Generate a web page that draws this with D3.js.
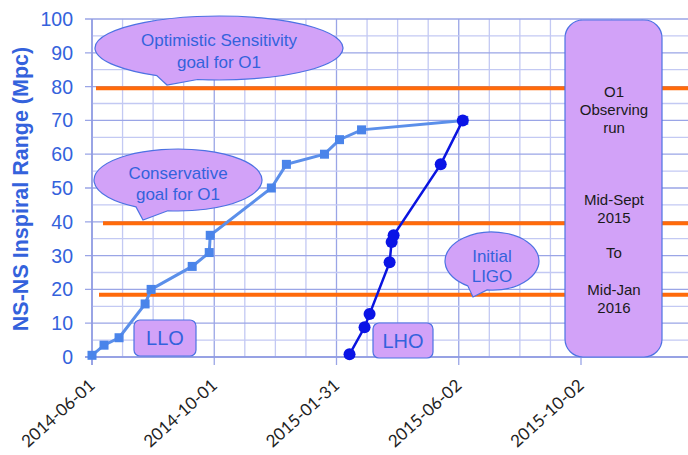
<!DOCTYPE html>
<html>
<head>
<meta charset="utf-8">
<script src="https://d3js.org/d3.v7.min.js"></script>
<style>
  body { margin: 0; background: #fff; }
  svg { display: block; }
</style>
</head>
<body>
<div id="chart"></div>
<script>
// LLO (Livingston) range, light blue squares
const lloDates  = ["2014-06-01", "2014-06-13", "2014-06-28", "2014-07-24", "2014-07-30", "2014-09-09",
                   "2014-09-26", "2014-09-27", "2014-11-27", "2014-12-12", "2015-01-19", "2015-02-03",
                   "2015-02-25", "2015-06-07"];
const lloValues = [0.5, 3.5, 5.7, 15.7, 20, 26.8, 30.9, 36, 50, 57, 60, 64.3, 67.2, 70];

// LHO (Hanford) range, dark blue circles
const lhoDates  = ["2015-02-13", "2015-02-28", "2015-03-05", "2015-03-25", "2015-03-27", "2015-03-29",
                   "2015-05-15", "2015-06-06"];
const lhoValues = [0.8, 8.8, 12.7, 28, 34, 36, 57, 70];

// reference levels (orange)
const goalLevels = [79.5, 39.6, 18.4];

const xTickLabels = ["2014-06-01", "2014-10-01", "2015-01-31", "2015-06-02", "2015-10-02"];
const yTicks = [0, 10, 20, 30, 40, 50, 60, 70, 80, 90, 100];

const width = 688, height = 455;
const parse = d3.utcParse("%Y-%m-%d");

const svg = d3.select("#chart").append("svg")
    .attr("width", width)
    .attr("height", height);

const x = d3.scaleUtc()
    .domain([parse(xTickLabels[0]), parse(xTickLabels[xTickLabels.length - 1])])
    .range([92, 581]);

const y = d3.scaleLinear()
    .domain([0, 100])
    .range([357, 19]);

const blue = "#3462dc";
const lavender = "#d2a2f8";
const boxStroke = "#4d72e3";

// grid
const grid = svg.append("g");
const stepPx = (x(parse(xTickLabels[1])) - x(parse(xTickLabels[0]))) / 4;
const minorX = d3.range(0, 19).map(i => x.range()[0] + i * stepPx).filter(v => v < width);
grid.selectAll(".vx").data(minorX).join("line")
    .attr("x1", d => d).attr("x2", d => d)
    .attr("y1", y(100)).attr("y2", (d, i) => i % 4 === 0 ? 365 : y(0))
    .attr("stroke", (d, i) => i % 4 === 0 ? "#9aa5e6" : "#c3c9f3")
    .attr("stroke-width", 1.3);

const minorY = d3.range(0, 101, 5);
grid.selectAll(".hy").data(minorY).join("line")
    .attr("x1", d => d % 10 === 0 ? 85 : 92).attr("x2", width)
    .attr("y1", d => y(d)).attr("y2", d => y(d))
    .attr("stroke", d => d % 10 === 0 ? "#9aa5e6" : "#c3c9f3")
    .attr("stroke-width", 1.3);

grid.append("line")
    .attr("x1", 92).attr("x2", 92).attr("y1", y(100)).attr("y2", 365)
    .attr("stroke", "#8e9ae2").attr("stroke-width", 1.5);
grid.append("line")
    .attr("x1", 85).attr("x2", width).attr("y1", y(0)).attr("y2", y(0))
    .attr("stroke", "#8e9ae2").attr("stroke-width", 1.5);

// y axis labels
svg.append("g").selectAll("text").data(yTicks).join("text")
    .attr("x", 73).attr("y", d => y(d))
    .attr("dy", "0.36em")
    .attr("text-anchor", "end")
    .attr("font-family", "Liberation Sans, Arial, sans-serif")
    .attr("font-size", 19.5)
    .attr("fill", blue)
    .text(d => d);

svg.append("text")
    .attr("transform", "translate(28,189) rotate(-90)")
    .attr("text-anchor", "middle")
    .attr("font-family", "Liberation Sans, Arial, sans-serif")
    .attr("font-weight", "bold")
    .attr("font-size", 21.5)
    .attr("fill", blue)
    .text("NS-NS Inspiral Range (Mpc)");

// x axis labels
svg.append("g").selectAll("text").data(xTickLabels).join("text")
    .attr("transform", d => `translate(${x(parse(d)) + 4},${387}) rotate(-42)`)
    .attr("text-anchor", "end")
    .attr("font-family", "Lato, Carlito, sans-serif")
    .attr("font-size", 17)
    .attr("fill", "#222")
    .text(d => d);

// orange goal lines
const goalStart = [96, 103, 99];
svg.append("g").selectAll("line").data(goalLevels).join("line")
    .attr("x1", (d, i) => goalStart[i]).attr("x2", width)
    .attr("y1", d => y(d)).attr("y2", d => y(d))
    .attr("stroke", "#ff6a0a")
    .attr("stroke-width", 4);

// callouts
function callout(cx, cy, rx, ry, a1, a2, tip, lines, ty) {
  const p = a => [cx + rx * Math.cos(a * Math.PI / 180), cy + ry * Math.sin(a * Math.PI / 180)];
  const p1 = p(a1), p2 = p(a2);
  svg.append("path")
      .attr("d", `M${p1[0]},${p1[1]} A${rx},${ry} 0 1 1 ${p2[0]},${p2[1]} L${tip[0]},${tip[1]} Z`)
      .attr("fill", lavender)
      .attr("stroke", boxStroke)
      .attr("stroke-width", 1.2);
  svg.append("g").selectAll("text").data(lines).join("text")
      .attr("x", cx).attr("y", (d, i) => ty[i])
      .attr("text-anchor", "middle")
      .attr("font-family", "Liberation Sans, Arial, sans-serif")
      .attr("font-size", 17)
      .attr("fill", blue)
      .text(d => d);
}
callout(219, 48, 124, 32, 120, 100, [167, 85], ["Optimistic Sensitivity", "goal for O1"], [46, 68]);
callout(178, 180, 84, 31, 120, 97, [143, 220], ["Conservative", "goal for O1"], [179, 200]);
callout(492, 261, 47, 29, 121, 96, [473, 297], ["Initial", "LIGO"], [262, 282]);

// site boxes
function siteBox(x0, y0, w, h, label) {
  svg.append("rect")
      .attr("x", x0).attr("y", y0).attr("width", w).attr("height", h)
      .attr("rx", 6)
      .attr("fill", lavender).attr("stroke", boxStroke).attr("stroke-width", 1.2);
  svg.append("text")
      .attr("x", x0 + w / 2).attr("y", y0 + h / 2).attr("dy", "0.36em")
      .attr("text-anchor", "middle")
      .attr("font-family", "Liberation Sans, Arial, sans-serif")
      .attr("font-size", 20)
      .attr("fill", blue)
      .text(label);
}
siteBox(134, 320, 62, 36, "LLO");
siteBox(373, 323, 60, 35, "LHO");

// O1 run box
svg.append("rect")
    .attr("x", 565).attr("y", 20).attr("width", 97).attr("height", 337)
    .attr("rx", 18)
    .attr("fill", lavender).attr("stroke", boxStroke).attr("stroke-width", 1.2);
const o1Lines = ["O1", "Observing", "run", "Mid-Sept", "2015", "To", "Mid-Jan", "2016"];
const o1Y = [97, 115, 133, 205, 223, 258, 295, 313];
svg.append("g").selectAll("text").data(o1Lines).join("text")
    .attr("x", 614).attr("y", (d, i) => o1Y[i])
    .attr("text-anchor", "middle")
    .attr("font-family", "Liberation Sans, Arial, sans-serif")
    .attr("font-size", 15)
    .attr("fill", "#1a1a1a")
    .text(d => d);

// series
const llo = lloDates.map((d, i) => ({ date: parse(d), value: lloValues[i] }));
const lho = lhoDates.map((d, i) => ({ date: parse(d), value: lhoValues[i] }));
const line = d3.line().x(d => x(d.date)).y(d => y(d.value));

svg.append("path").datum(llo)
    .attr("d", line)
    .attr("fill", "none")
    .attr("stroke", "#5b8fea")
    .attr("stroke-width", 3);
svg.append("g").selectAll("rect").data(llo).join("rect")
    .attr("x", d => x(d.date) - 4.5).attr("y", d => y(d.value) - 4.5)
    .attr("width", 9).attr("height", 9)
    .attr("fill", "#4a84ea");

svg.append("path").datum(lho)
    .attr("d", line)
    .attr("fill", "none")
    .attr("stroke", "#0a14e0")
    .attr("stroke-width", 2.5);
svg.append("g").selectAll("circle").data(lho).join("circle")
    .attr("cx", d => x(d.date)).attr("cy", d => y(d.value))
    .attr("r", 6)
    .attr("fill", "#0a14e6");
</script>
</body>
</html>
